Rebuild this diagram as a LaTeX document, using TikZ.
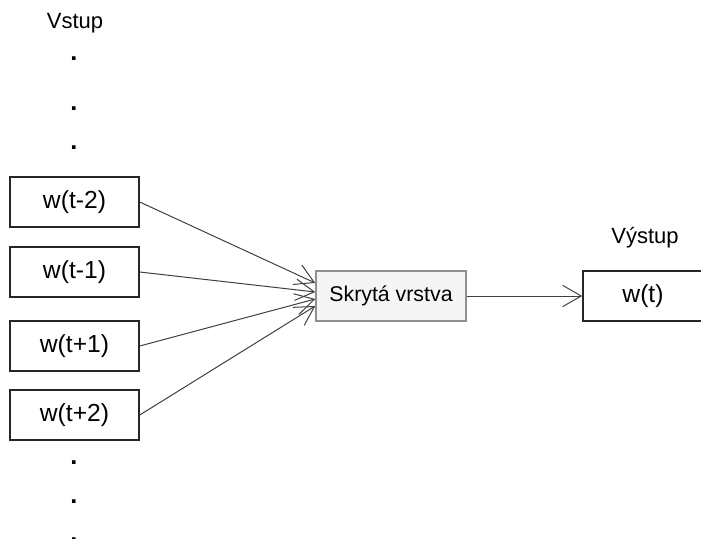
\documentclass[tikz,border=0pt]{standalone}
\usepackage{fontspec}
\setmainfont{Liberation Sans}
\usetikzlibrary{arrows.meta,calc}
\definecolor{edge}{HTML}{404040}
\definecolor{hidfill}{HTML}{F5F5F5}
\definecolor{hidline}{HTML}{909090}
\tikzset{
  wordbox/.style={draw=black!85, line width=1.1pt, minimum width=129*0.75pt,
    minimum height=50*0.75pt, inner sep=0pt, font=\fontsize{18.5}{22}\selectfont},
  hidbox/.style={draw=hidline, fill=hidfill, line width=1.1pt, minimum width=150*0.75pt,
    minimum height=50*0.75pt, inner sep=0pt, font=\fontsize{16}{19}\selectfont},
  caption/.style={inner sep=0pt, font=\fontsize{16.5}{19}\selectfont},
  dotmark/.style={inner sep=0pt, font=\fontsize{19}{20}\selectfont\bfseries},
  link/.style={draw=edge, line width=0.75pt,
    -{Straight Barb[length=14pt, width=16pt, line width=0.75pt]}}
}
\begin{document}
\begin{tikzpicture}[x=0.75pt, y=-0.75pt]
\useasboundingbox (0,0) rectangle (701,539);
\clip (0,0) rectangle (701,539);
\fill[white] (0,0) rectangle (701,539);

% input column
\node[caption] (vin) at (75,23) {Vstup};
\node[dotmark] (d1) at (74,59) {.};
\node[dotmark] (d2) at (74,109) {.};
\node[dotmark] (d3) at (74,148) {.};

\node[wordbox] (a) at (74.5,202) {w(t-2)};
\node[wordbox] (b) at (74.5,272) {w(t-1)};
\node[wordbox] (c) at (74.5,346) {w(t+1)};
\node[wordbox] (e) at (74.5,415) {w(t+2)};

\node[dotmark] (d4) at (74,463) {.};
\node[dotmark] (d5) at (74,502) {.};
\node[dotmark] (d6) at (74,540) {.};

% hidden layer and output
\node[hidbox] (h) at (391,296) {Skrytá vrstva};
\node[wordbox, minimum width=120*0.75pt] (o) at (643,296) {w(t)};
\node[caption] (vout) at (645,238) {Výstup};

% connections
\draw[link] (a.east) -- ($(h.west)+(0,-13)$);
\draw[link] (b.east) -- ($(h.west)+(0,-4)$);
\draw[link] (c.east) -- ($(h.west)+(0,3)$);
\draw[link] (e.east) -- ($(h.west)+(0,10)$);
\draw[link] (h.east) -- (o.west);
\end{tikzpicture}
\end{document}
